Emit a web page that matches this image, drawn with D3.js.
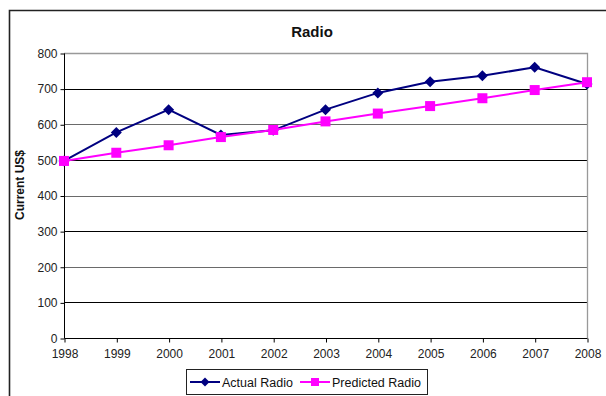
<!DOCTYPE html>
<html>
<head>
<meta charset="utf-8">
<script src="https://cdn.jsdelivr.net/npm/d3@7"></script>
<style>
  html, body { margin: 0; padding: 0; background: #fff; }
  svg { display: block; font-family: "Liberation Sans", Arial, sans-serif; }
</style>
</head>
<body>
<svg id="chart" width="606" height="396"></svg>
<script>
// Radio spending, actual vs. predicted (current US$)
const years = [1998, 1999, 2000, 2001, 2002, 2003, 2004, 2005, 2006, 2007, 2008];
const actualRadio = [497, 577, 641, 570, 583, 641, 688, 719, 736, 760, 713];
const predictedRadio = [497, 520, 541, 564, 584, 608, 630, 651, 673, 696, 718];
const yTicks = [0, 100, 200, 300, 400, 500, 600, 700, 800];
const seriesNames = ["Actual Radio", "Predicted Radio"];

const svg = d3.select("#chart");
const plotL = 64, plotR = 587, plotT = 53, plotB = 338;

const x = d3.scaleLinear().domain([1998, 2008]).range([plotL, plotR]);
const y = d3.scaleLinear().domain([0, 800]).range([plotB, plotT]);

// square-proportioned diamond marker
const diamondPath = r => `M0,${-r}L${r},0L0,${r}L${-r},0Z`;

// outer chart frame (runs off the canvas on the right and bottom)
svg.append("path")
  .attr("d", "M9.5,400 L9.5,10.5 L620,10.5")
  .attr("fill", "none").attr("stroke", "#222").attr("stroke-width", 1.6);

// title
svg.append("text")
  .attr("x", 312).attr("y", 37)
  .attr("text-anchor", "middle")
  .attr("font-size", 15).attr("font-weight", "bold")
  .attr("fill", "#111")
  .text("Radio");

// horizontal gridlines
svg.append("g").selectAll("line")
  .data(yTicks.filter(v => v > 0 && v < 800))
  .join("line")
  .attr("x1", plotL).attr("x2", plotR)
  .attr("y1", d => Math.round(y(d)) + 0.5).attr("y2", d => Math.round(y(d)) + 0.5)
  .attr("stroke", d => d % 200 === 0 ? "#6a6a6a" : "#000")
  .attr("stroke-width", 1);

// plot area top and right edges
svg.append("path")
  .attr("d", `M${plotL},${Math.round(plotT) + 0.5} H${plotR + 0.5} V${plotB}`)
  .attr("fill", "none").attr("stroke", "#999").attr("stroke-width", 1.3);

// y axis
const yAxis = d3.axisLeft(y).tickValues(yTicks).tickSize(4).tickPadding(3).tickFormat(d3.format("d"));
const gy = svg.append("g").attr("transform", `translate(${plotL + 0.5},0.5)`).call(yAxis);
gy.select(".domain").attr("stroke", "#000").attr("d", `M0,${plotT}V${plotB}`);
gy.selectAll(".tick line").attr("stroke", "#000");
gy.selectAll(".tick text").attr("font-size", 12).attr("fill", "#222")
  .attr("font-family", "'Liberation Sans', Arial, sans-serif");

// x axis
const xAxis = d3.axisBottom(x).tickValues(years).tickSize(4).tickPadding(7).tickFormat(d3.format("d"));
const gx = svg.append("g").attr("transform", `translate(0.5,${Math.round(plotB) + 0.5})`).call(xAxis);
gx.select(".domain").attr("stroke", "#000").attr("d", `M${plotL},0H${plotR}`);
gx.selectAll(".tick line").attr("stroke", "#000");
gx.selectAll(".tick text").attr("font-size", 12).attr("fill", "#222")
  .attr("font-family", "'Liberation Sans', Arial, sans-serif");

// y axis title
svg.append("text")
  .attr("transform", "translate(24,185) rotate(-90)")
  .attr("text-anchor", "middle")
  .attr("font-size", 12).attr("font-weight", "bold")
  .attr("fill", "#111")
  .text("Current US$");

const line = d3.line().x((d, i) => x(years[i])).y(d => y(d));
const navy = "#000080", magenta = "#ff00ff";

// actual series
svg.append("path").datum(actualRadio)
  .attr("d", line).attr("fill", "none").attr("stroke", navy).attr("stroke-width", 2);
svg.append("g").selectAll("path")
  .data(actualRadio).join("path")
  .attr("transform", (d, i) => `translate(${x(years[i])},${y(d)})`)
  .attr("d", diamondPath(5.5)).attr("fill", navy);

// predicted series
svg.append("path").datum(predictedRadio)
  .attr("d", line).attr("fill", "none").attr("stroke", magenta).attr("stroke-width", 2);
svg.append("g").selectAll("rect")
  .data(predictedRadio).join("rect")
  .attr("x", (d, i) => x(years[i]) - 5).attr("y", d => y(d) - 5)
  .attr("width", 10).attr("height", 10)
  .attr("fill", magenta);

// legend
const lg = svg.append("g");
lg.append("rect")
  .attr("x", 186.5).attr("y", 369.5).attr("width", 241).attr("height", 25)
  .attr("fill", "#fff").attr("stroke", "#222").attr("stroke-width", 1);
const items = [
  { name: seriesNames[0], color: navy, x0: 190, kind: "diamond" },
  { name: seriesNames[1], color: magenta, x0: 300, kind: "square" }
];
items.forEach(it => {
  const cy = 382;
  lg.append("line").attr("x1", it.x0).attr("x2", it.x0 + 30)
    .attr("y1", cy).attr("y2", cy).attr("stroke", it.color).attr("stroke-width", 2);
  if (it.kind === "diamond") {
    lg.append("path").attr("transform", `translate(${it.x0 + 15},${cy})`)
      .attr("d", diamondPath(4.5)).attr("fill", it.color);
  } else {
    lg.append("rect").attr("x", it.x0 + 11).attr("y", cy - 4)
      .attr("width", 8).attr("height", 8).attr("fill", it.color);
  }
  lg.append("text").attr("x", it.x0 + 32).attr("y", cy + 4.5)
    .attr("font-size", 12.5).attr("fill", "#111").text(it.name);
});
</script>
</body>
</html>
